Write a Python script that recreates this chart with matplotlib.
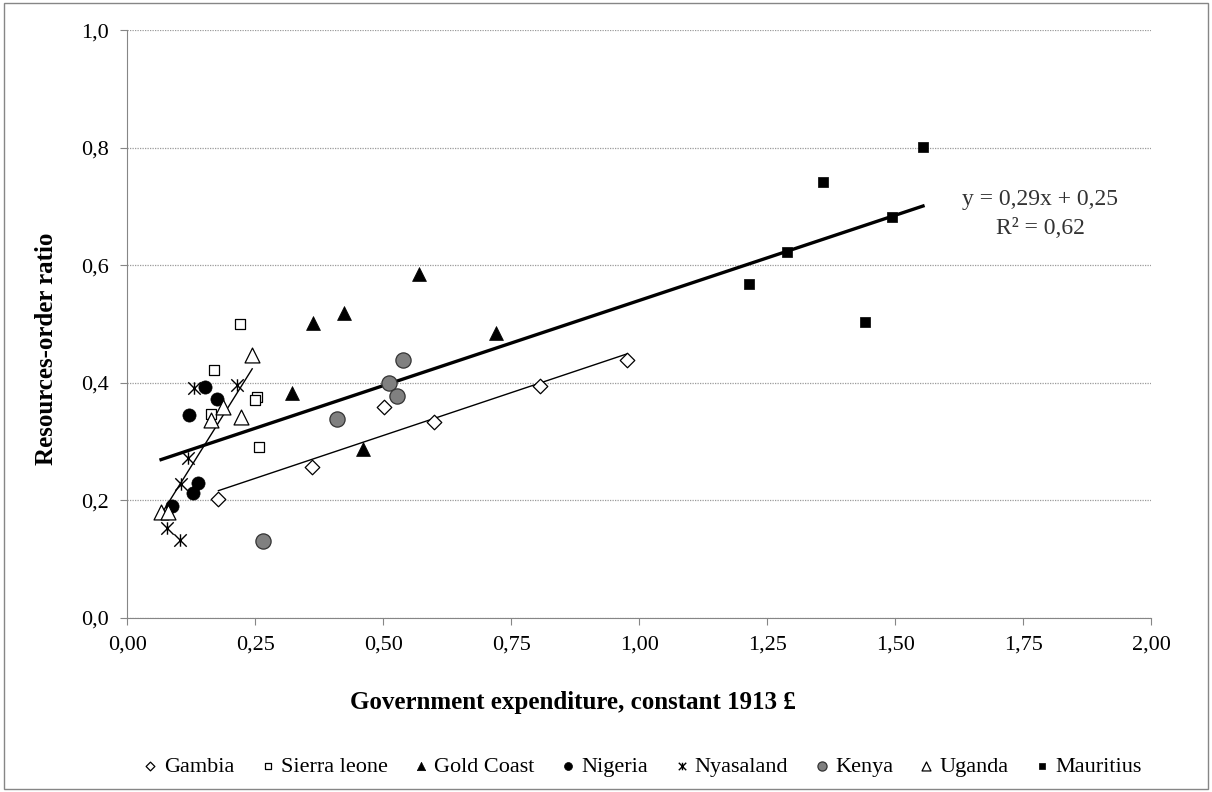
import matplotlib
matplotlib.use("Agg")
import matplotlib.pyplot as plt
import numpy as np
from matplotlib.path import Path
from matplotlib.patches import Rectangle

plt.rcParams['font.family'] = ['Liberation Serif', 'DejaVu Serif']

# government expenditure (constant 1913 £) and resources-order ratio per colony
gambia_x = [0.178, 0.361, 0.502, 0.599, 0.806, 0.975]
gambia_y = [0.202, 0.256, 0.359, 0.333, 0.395, 0.439]

sierra_x = [0.220, 0.170, 0.164, 0.253, 0.249, 0.257]
sierra_y = [0.500, 0.422, 0.347, 0.376, 0.371, 0.290]

gold_x = [0.570, 0.424, 0.362, 0.720, 0.322, 0.460]
gold_y = [0.585, 0.519, 0.502, 0.484, 0.382, 0.287]

nigeria_x = [0.152, 0.176, 0.121, 0.138, 0.128, 0.088]
nigeria_y = [0.393, 0.372, 0.345, 0.230, 0.213, 0.190]

nyasa_x = [0.130, 0.214, 0.119, 0.104, 0.077, 0.103]
nyasa_y = [0.391, 0.396, 0.272, 0.228, 0.153, 0.133]

kenya_x = [0.538, 0.511, 0.526, 0.409, 0.266]
kenya_y = [0.438, 0.399, 0.378, 0.338, 0.131]

uganda_x = [0.244, 0.186, 0.164, 0.223, 0.066, 0.080]
uganda_y = [0.447, 0.359, 0.336, 0.342, 0.180, 0.180]

maur_x = [1.554, 1.359, 1.289, 1.494, 1.214, 1.441]
maur_y = [0.801, 0.741, 0.623, 0.682, 0.568, 0.504]

# overall linear trend as reported on the chart
slope, intercept, r2 = 0.29, 0.25, 0.62

# asterisk-like marker: an X with a vertical stroke
star = Path([(-1, -1), (1, 1), (-1, 1), (1, -1), (0, -1), (0, 1)],
            [Path.MOVETO, Path.LINETO, Path.MOVETO, Path.LINETO, Path.MOVETO, Path.LINETO])

fig = plt.figure(figsize=(12.12, 7.92), dpi=100)
ax = fig.add_axes([0.105, 0.22, 0.845, 0.742])

series = [
    ('Gambia', gambia_x, gambia_y, dict(marker='D', s=55, facecolor='white', edgecolor='black', linewidths=0.9)),
    ('Sierra leone', sierra_x, sierra_y, dict(marker='s', s=55, facecolor='white', edgecolor='black', linewidths=0.9)),
    ('Gold Coast', gold_x, gold_y, dict(marker='^', s=100, facecolor='black', edgecolor='black', linewidths=0.5)),
    ('Nigeria', nigeria_x, nigeria_y, dict(marker='o', s=90, facecolor='black', edgecolor='black', linewidths=0.5)),
    ('Nyasaland', nyasa_x, nyasa_y, dict(marker=star, s=80, color='black', linewidths=1.0)),
    ('Kenya', kenya_x, kenya_y, dict(marker='o', s=120, facecolor='#808080', edgecolor='#333333', linewidths=0.9)),
    ('Uganda', uganda_x, uganda_y, dict(marker='^', s=115, facecolor='white', edgecolor='black', linewidths=0.9)),
    ('Mauritius', maur_x, maur_y, dict(marker='s', s=60, facecolor='black', edgecolor='black', linewidths=0.5)),
]

for name, xs, ys, style in series:
    ax.scatter(xs, ys, label=name, zorder=3, **style)

# thin per-colony trend lines
for xs, ys in [(gambia_x, gambia_y), (uganda_x, uganda_y)]:
    k, b = np.polyfit(xs, ys, 1)
    xx = np.array([min(xs), max(xs)])
    ax.plot(xx, k * xx + b, color='black', lw=1.0, zorder=2)

# thick overall trend line
all_x = np.concatenate([gambia_x, sierra_x, gold_x, nigeria_x, nyasa_x, kenya_x, uganda_x, maur_x])
xx = np.array([all_x.min(), all_x.max()])
ax.plot(xx, slope * xx + intercept, color='black', lw=2.4, zorder=2)

ax.text(1.783, 0.711, f'y = {slope:.2f}x + {intercept:.2f}'.replace('.', ','),
        fontsize=17, ha='center', va='center', color='#333333')
ax.text(1.783, 0.663, f'R² = {r2:.2f}'.replace('.', ','),
        fontsize=17, ha='center', va='center', color='#333333')

ax.set_xlim(0, 2)
ax.set_ylim(0, 1)
ax.set_xticks(np.arange(0, 2.01, 0.25))
ax.set_yticks(np.arange(0, 1.01, 0.2))
ax.set_xticklabels([f'{v:.2f}'.replace('.', ',') for v in np.arange(0, 2.01, 0.25)])
ax.set_yticklabels([f'{v:.1f}'.replace('.', ',') for v in np.arange(0, 1.01, 0.2)])
ax.tick_params(labelsize=16, color='#868686', length=5, direction='out', pad=8)
ax.yaxis.grid(True, linestyle=(0, (1, 1)), color='#9a9a9a', lw=0.9)
ax.set_axisbelow(True)
for side in ['top', 'right']:
    ax.spines[side].set_visible(False)
for side in ['left', 'bottom']:
    ax.spines[side].set_color('#868686')

ax.set_xlabel('Government expenditure, constant 1913 £', fontsize=18, fontweight='bold')
ax.set_ylabel('Resources-order ratio', fontsize=18, fontweight='bold')
ax.xaxis.set_label_coords(0.435, -0.125)
ax.yaxis.set_label_coords(-0.068, 0.457)

handles, labels = ax.get_legend_handles_labels()
fig.legend(handles, labels, loc='center', bbox_to_anchor=(0.53, 0.032), ncol=8,
           frameon=False, fontsize=16, markerscale=0.6, handlelength=0.7,
           handletextpad=0.25, columnspacing=1.15, borderpad=0)

fig.patches.append(Rectangle((0.003, 0.004), 0.994, 0.992, transform=fig.transFigure,
                             fill=False, edgecolor='#868686', lw=1.0))

fig.savefig('out.png', dpi=100)
